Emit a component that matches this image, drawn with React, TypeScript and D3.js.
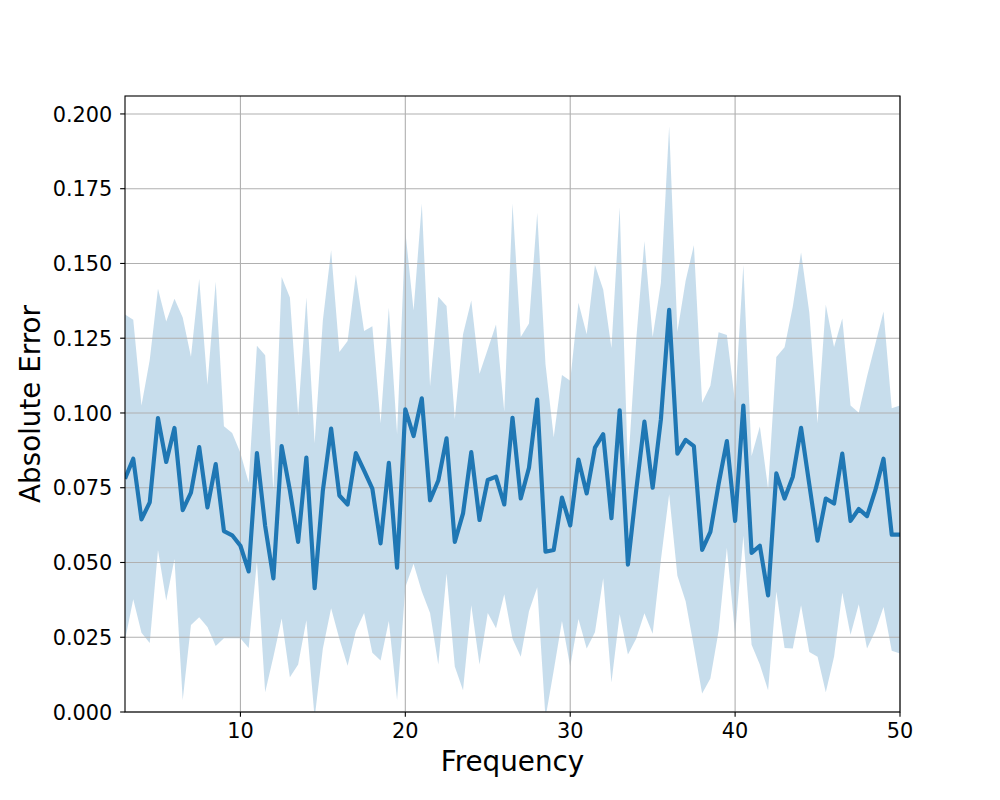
import React from "react";
import * as d3 from "d3";

const freqs = [
  3, 3.5, 4, 4.5, 5, 5.5, 6, 6.5, 7, 7.5, 8, 8.5, 9, 9.5, 10, 10.5, 11, 11.5, 12, 12.5,
  13, 13.5, 14, 14.5, 15, 15.5, 16, 16.5, 17, 17.5, 18, 18.5, 19, 19.5, 20, 20.5, 21, 21.5,
  22, 22.5, 23, 23.5, 24, 24.5, 25, 25.5, 26, 26.5, 27, 27.5, 28, 28.5, 29, 29.5, 30, 30.5,
  31, 31.5, 32, 32.5, 33, 33.5, 34, 34.5, 35, 35.5, 36, 36.5, 37, 37.5, 38, 38.5, 39, 39.5,
  40, 40.5, 41, 41.5, 42, 42.5, 43, 43.5, 44, 44.5, 45, 45.5, 46, 46.5, 47, 47.5, 48, 48.5,
  49, 49.5, 50,
];

const meanErr = [
  0.078, 0.0847, 0.0644, 0.0701, 0.0983, 0.0836, 0.095, 0.0675, 0.0734, 0.0886,
  0.0684, 0.0829, 0.0605, 0.0591, 0.0556, 0.047, 0.0866, 0.0622, 0.0447, 0.0889,
  0.0741, 0.0569, 0.0851, 0.0414, 0.0741, 0.0948, 0.0724, 0.0694, 0.0866, 0.0807,
  0.0747, 0.0564, 0.0833, 0.0483, 0.1012, 0.0923, 0.1049, 0.0708, 0.0774, 0.0915,
  0.0569, 0.0664, 0.0869, 0.0642, 0.0776, 0.0787, 0.0694, 0.0984, 0.0714, 0.0817,
  0.1045, 0.0536, 0.0542, 0.0717, 0.0624, 0.0844, 0.0731, 0.0884, 0.0929, 0.0648,
  0.1009, 0.0493, 0.0741, 0.0971, 0.075, 0.0979, 0.1345, 0.0864, 0.091, 0.0889,
  0.0542, 0.0602, 0.0763, 0.0906, 0.0639, 0.1025, 0.0532, 0.0556, 0.039, 0.0798,
  0.0714, 0.0787, 0.095, 0.0761, 0.0573, 0.0714, 0.0697, 0.0864, 0.0639, 0.0679,
  0.0655, 0.0741, 0.0847, 0.0593, 0.0593,
];

const upperErr = [
  0.1329, 0.1312, 0.1025, 0.1177, 0.1415, 0.1306, 0.1382, 0.1319, 0.1188, 0.1448,
  0.1094, 0.1439, 0.0956, 0.0933, 0.0866, 0.0767, 0.1225, 0.1193, 0.074, 0.1455,
  0.1386, 0.0992, 0.1386, 0.0899, 0.131, 0.1544, 0.1204, 0.1241, 0.1462, 0.1274,
  0.129, 0.0966, 0.1353, 0.093, 0.1607, 0.1343, 0.17, 0.1089, 0.1389, 0.1358,
  0.0979, 0.1263, 0.1376, 0.1131, 0.1213, 0.1296, 0.1005, 0.17, 0.1254, 0.1299,
  0.1669, 0.1164, 0.0919, 0.1127, 0.1108, 0.1369, 0.1263, 0.1495, 0.1413, 0.1217,
  0.1687, 0.0813, 0.1243, 0.1574, 0.1254, 0.1435, 0.1958, 0.1272, 0.1442, 0.1561,
  0.1034, 0.1091, 0.127, 0.1261, 0.1036, 0.1495, 0.0856, 0.0955, 0.0747, 0.1187,
  0.122, 0.1356, 0.1537, 0.1336, 0.0966, 0.1362, 0.1221, 0.1316, 0.1025, 0.1001,
  0.1122, 0.123, 0.1339, 0.1016, 0.1025,
];

const lowerErr = [
  0.024, 0.0377, 0.0265, 0.0231, 0.0542, 0.0373, 0.0512, 0.004, 0.0291, 0.0317,
  0.0284, 0.0221, 0.0247, 0.0247, 0.0247, 0.0214, 0.0503, 0.0066, 0.0185, 0.0313,
  0.0116, 0.0159, 0.0307, -0.002, 0.0212, 0.0347, 0.0245, 0.0155, 0.0271, 0.0331,
  0.0198, 0.0172, 0.0304, 0.004, 0.0417, 0.0496, 0.0403, 0.0331, 0.0159, 0.0463,
  0.0152, 0.0073, 0.0357, 0.0159, 0.0331, 0.028, 0.0394, 0.0245, 0.0185, 0.0337,
  0.0417, -0.002, 0.0139, 0.0304, 0.0152, 0.0311, 0.0212, 0.0267, 0.0447, 0.0099,
  0.0327, 0.0192, 0.0245, 0.033, 0.0262, 0.0509, 0.0728, 0.0456, 0.037, 0.0218,
  0.0062, 0.0112, 0.0271, 0.0549, 0.0258, 0.0589, 0.0225, 0.0159, 0.0073, 0.0403,
  0.0214, 0.0212, 0.0357, 0.0201, 0.0185, 0.0066, 0.0185, 0.0399, 0.0258, 0.036,
  0.0212, 0.0271, 0.0351, 0.0205, 0.0196,
];

const xTicks = [10, 20, 30, 40, 50];
const yTicks = [0, 0.025, 0.05, 0.075, 0.1, 0.125, 0.15, 0.175, 0.2];

const W = 1000;
const H = 800;
const L = 125;
const R = 900;
const T = 96;
const B = 712;
const FONT = "DejaVu Sans, sans-serif";
const BLUE = "#1f77b4";

export default function App() {
  const x = d3.scaleLinear().domain([3, 50]).range([L, R]);
  const y = d3.scaleLinear().domain([0, 0.206]).range([B, T]);

  const idx = d3.range(freqs.length);
  const area = d3
    .area<number>()
    .x((i) => x(freqs[i]))
    .y0((i) => y(lowerErr[i]))
    .y1((i) => y(upperErr[i]));
  const line = d3
    .line<number>()
    .x((i) => x(freqs[i]))
    .y((i) => y(meanErr[i]));

  const tickFs = 20.83;
  const labelFs = 27.78;
  const tickLen = 4.86;
  const pad = 4.86;

  return (
    <svg width={W} height={H} style={{ display: "block", position: "absolute", left: 0, top: 0 }}>
      <rect x={0} y={0} width={W} height={H} fill="#ffffff" />
      <defs>
        <clipPath id="plotclip">
          <rect x={L} y={T} width={R - L} height={B - T} />
        </clipPath>
      </defs>
      <g clipPath="url(#plotclip)">
        <path d={area(idx) || ""} fill={BLUE} fillOpacity={0.25} stroke="none" />
      </g>
      {/* grid */}
      <g stroke="#b0b0b0" strokeWidth={1.11}>
        {xTicks.map((t) => (
          <line key={"gx" + t} x1={x(t)} x2={x(t)} y1={T} y2={B} />
        ))}
        {yTicks.map((t) => (
          <line key={"gy" + t} x1={L} x2={R} y1={y(t)} y2={y(t)} />
        ))}
      </g>
      <g clipPath="url(#plotclip)">
        <path
          d={line(idx) || ""}
          fill="none"
          stroke={BLUE}
          strokeWidth={4.17}
          strokeLinejoin="round"
          strokeLinecap="butt"
        />
      </g>
      {/* spines */}
      <rect x={L} y={T} width={R - L} height={B - T} fill="none" stroke="#000" strokeWidth={1.11} />
      {/* x ticks */}
      <g>
        {xTicks.map((t) => (
          <g key={"xt" + t}>
            <line x1={x(t)} x2={x(t)} y1={B} y2={B + tickLen} stroke="#000" strokeWidth={1.11} />
            <text
              x={x(t)}
              y={B + tickLen + pad + 16.2}
              textAnchor="middle"
              fontFamily={FONT}
              fontSize={tickFs}
              fill="#000"
            >
              {t}
            </text>
          </g>
        ))}
      </g>
      {/* y ticks */}
      <g>
        {yTicks.map((t) => (
          <g key={"yt" + t}>
            <line x1={L - tickLen} x2={L} y1={y(t)} y2={y(t)} stroke="#000" strokeWidth={1.11} />
            <text
              x={L - tickLen - pad - 3}
              y={y(t) + 7.6}
              textAnchor="end"
              fontFamily={FONT}
              fontSize={tickFs}
              fill="#000"
            >
              {d3.format(".3f")(t)}
            </text>
          </g>
        ))}
      </g>
      <text
        x={(L + R) / 2}
        y={771}
        textAnchor="middle"
        fontFamily={FONT}
        fontSize={labelFs}
        fill="#000"
      >
        Frequency
      </text>
      <text
        transform={`translate(40, ${(T + B) / 2}) rotate(-90)`}
        textAnchor="middle"
        fontFamily={FONT}
        fontSize={labelFs}
        fill="#000"
      >
        Absolute Error
      </text>
    </svg>
  );
}
